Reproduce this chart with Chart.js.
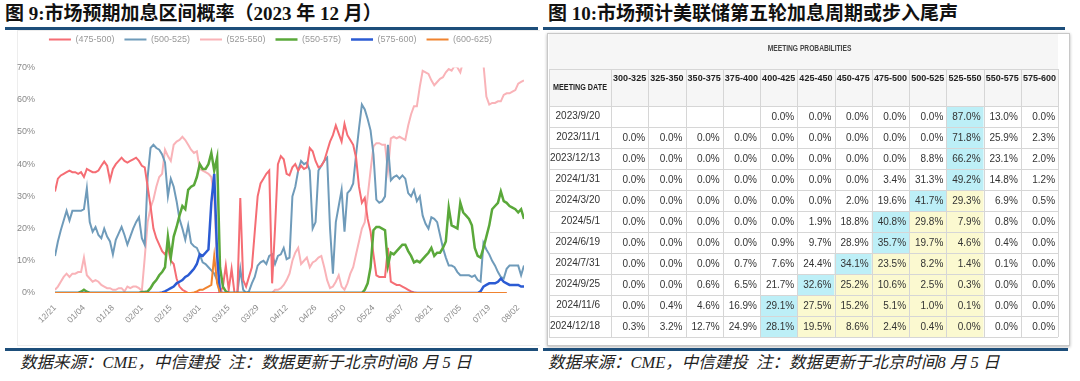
<!DOCTYPE html>
<html lang="zh-CN">
<head>
<meta charset="utf-8">
<title>市场预期加息区间概率</title>
<script src="https://cdn.jsdelivr.net/npm/chart.js@4.4.1/dist/chart.umd.min.js"></script>
<style>
  body { margin: 0; width: 1080px; height: 381px; background: #fff; position: relative; overflow: hidden; }
  .fig-title { position: absolute; top: 2px; font: bold 19px "Liberation Serif", "Noto Sans CJK SC", serif; color: #111; white-space: nowrap; line-height: 24px; }
  .rule { position: absolute; height: 3px; background: #1d4e7a; }
  .note { position: absolute; top: 352px; font: italic 16.5px "Liberation Serif", "Noto Sans CJK SC", serif; color: #222; white-space: nowrap; line-height: 22px; }
  .frame { position: absolute; box-sizing: border-box; }
  canvas { position: absolute; }
</style>
</head>
<body>
<div class="fig-title" style="left:5px">图 9:市场预期加息区间概率（2023 年 12 月）</div>
<div class="rule" style="left:5px; top:27px; width:533px"></div>
<div class="frame" style="left:17px; top:30px; width:523px; height:316px; border:1px solid #ededed; border-right:none"></div>
<canvas id="rateChart" width="523" height="320" style="left:17px; top:25px"></canvas>
<div class="rule" style="left:5px; top:348px; width:533px"></div>
<div class="note" style="left:20px">数据来源：CME，中信建投&nbsp;&nbsp;注：数据更新于北京时间8 月 5 日</div>

<div class="fig-title" style="left:548px">图 10:市场预计美联储第五轮加息周期或步入尾声</div>
<div class="rule" style="left:543px; top:27px; width:522px"></div>
<div class="frame" style="left:547px; top:33px; width:523px; height:313px; border:1px solid #c8c8c8; box-shadow:0 1px 3px rgba(0,0,0,.3)"></div>
<canvas id="meetingChart" width="523" height="313" style="left:547px; top:33px"></canvas>
<div class="rule" style="left:543px; top:348px; width:525px"></div>
<div class="note" style="left:548px">数据来源：CME，中信建投&nbsp;&nbsp;注：数据更新于北京时间8 月 5 日</div>

<script>
// ---- left chart: probability of each target range, one value per business day from 12/21
const tickLabels = ['12/21', '01/04', '01/18', '02/01', '02/15', '03/01', '03/15', '03/29', '04/12',
  '04/26', '05/10', '05/24', '06/07', '06/21', '07/05', '07/19', '08/02'];
const rangeLabels = ['(475-500)', '(500-525)', '(525-550)', '(550-575)', '(575-600)', '(600-625)'];

const p475to500 = [
  31.5, 35.5, 36.5, 37, 37.5, 38, 37.5, 37.5, 37, 37.5,
  36, 38.5, 38, 37.5, 37.5, 38, 39.5, 40.8, 39.5, 35,
  38.5, 40, 41, 42, 41, 40.5, 41, 41.5, 42, 41,
  39.5, 39, 33, 27, 20, 17, 15, 13, 12, 14,
  10, 9, 4.5, 2, 1, 0.5, 0, 0, 0, 0,
  0, 0, 0, 0, 0, 0, 0, 0, 2, 8.5,
  1, 7.5, 0, 0, 29.5, 4, 2, 5, 8, 19,
  30, 34, 35.5, 37, 38, 3, 20, 40, 42.5, 41.5,
  37, 36.5, 39, 40, 38, 39.5, 38.5, 39, 45, 44,
  41, 39, 39.5, 41, 44, 47, 49, 52, 49.5, 47,
  52.5, 49, 47.5, 46, 42, 33, 28, 29.5, 23, 19,
  12, 5.5, 5, 5, 5, 14, 3.5, 3, 2.5, 2.5,
  2, 1.5, 1, 0.5, 0.2, 0, 0, 0, 0, 0,
  0, 0, 0, 0, 0, 0, 0, 0, 0, 0,
  0, 0, 0, 0, 0, 0, 0, 0, 0, 0,
  0, 0, 0, 0, 0, 0, 0, null, null, null,
  null, null, null
];
const p500to525 = [
  11.5, 16, 19.5, 22.5, 25.5, 22.5, 25.5, 25.5, 25.5, 25.5,
  26, 32.5, 22, 19, 20.5, 18, 17, 20, 17.5, 16,
  12, 16.5, 18.5, 20.5, 18, 15, 17.5, 20, 22, 23.5,
  17, 15, 36, 45, 46, 45, 44.5, 43, 40.5, 30,
  35.5, 33, 28.5, 23, 20, 16.5, 21, 15.5, 14.5, 14,
  12, 9.5, 9, 8, 7, 6, 4, 0, 0, 0,
  0, 0, 0, 0, 7.5, 1, 0, 0.5, 3, 5,
  8.5, 9.5, 10, 9, 11.5, 12, 9, 11.5, 12, 14,
  10.5, 11, 30, 33, 38, 41, 40, 40.5, 38, 20,
  22, 38, 39.5, 41, 42, 20, 6, 22, 27, 32,
  19, 31, 32, 34, 43, 51, 58.5, 57, 54, 50.5,
  43, 29, 28, 28.5, 30, 46, 35, 36, 36.5, 35.5,
  36.5, 35.5, 31, 30, 32, 28.5, 30, 24, 21.5, 20,
  23.5, 23, 22, 18, 14, 11, 8.5, 8.5, 8, 6.5,
  5.5, 5.5, 5.5, 5.5, 5, 5.5, 4, 3.5, 15.5, 13.5,
  12, 10, 8.5, 6.5, 5, 4.5, 7.5, 8.5, 8.5, 8.5,
  8.5, 5.5, 8.5
];
const p525to550 = [
  1, 2, 3.5, 5, 6, 5, 6, 6, 6.5, 6.5,
  11, 5.5, 4.5, 3.5, 4, 3.5, 2.5, 2, 1.5, 1.5,
  1, 1, 1.5, 1.5, 0.5, 2, 1.5, 2, 2, 1.5,
  0.7, 11, 22, 26.5, 29, 33, 36, 37, 44.5, 42.5,
  41, 46, 47, 47.5, 48.5, 47.5, 46, 44.5, 43.5, 44,
  38.5, 38, 37.5, 37, 36, 30, 8, 1, 0, 0,
  0, 0, 0, 0, 0, 0, 0, 0, 0, 0,
  0, 0, 0, 0, 0, 0, 1, 1, 1.5, 2.5,
  4, 6, 10, 12.5, 14, 9, 10, 11, 8, 9.5,
  10, 11, 11.5, 8, 4, 1.5, 2, 3.5, 5.5, 2,
  1, 3, 6, 8, 12, 16, 20, 22, 30, 38,
  45.5, 46.5, 46.5, 46, 46, 38, 48, 48.5, 48, 48.5,
  48, 47.5, 52, 55.5, 58, 58, 64, 69, 68.5, 68,
  66, 64.5, 65.5, 66.5, 67, 68.5, 69.5, 69, 70.5, 70,
  68.5, 72, 74, 75, 76, 75, 74, 73, 71, 61,
  58.5, 59, 59, 59.5, 59.5, 61.5, 62, 62, 62.5, 63,
  65, 65.5, 66
];
const p550to575 = [
  0, 0, 0, 0, 0, 0, 0, 0, 0, 0.4,
  1, 0.4, 0, 0, 0, 0, 0, 0, 0, 0,
  0, 0, 0, 0, 0, 0, 0, 0, 0, 0,
  0.3, 0.3, 0.5, 1.5, 3, 4, 5.5, 6.5, 8, 17.5,
  11, 17.5, 20.5, 24, 27, 26, 32, 33, 33.5, 36,
  40, 38.5, 38.5, 40, 43.5, 38, 42, 8, 2, 0.5,
  0, 0, 0, 0, 0, 0, 0, 0, 0, 0,
  0, 0, 0, 0, 0, 0, 0, 0, 0, 0,
  0, 0, 0, 0, 0, 0, 0, 0, 0, 0,
  0, 0, 0, 0, 0, 0, 0, 0, 0, 0,
  0, 0, 0, 0, 0, 0, 0, 1, 3, 8,
  19.5, 20.5, 20.5, 20, 19.5, 8.5, 12.5, 12, 13, 14,
  15, 15, 13, 11.5, 9.5, 10, 9.5, 10.5, 11.5, 12.5,
  14, 11.5, 12.5, 12.5, 14, 16, 26.5, 21, 20.5, 20,
  28, 25, 24, 23, 21, 14, 11.5, 11, 14, 17.5,
  21, 26, 27, 28, 31.5, 28.5, 28, 27, 26.5, 26,
  25, 26, 23
];
const p575to600 = [
  0, 0, 0, 0, 0, 0, 0, 0, 0, 0,
  0, 0, 0, 0, 0, 0, 0, 0, 0, 0,
  0, 0, 0, 0, 0, 0, 0, 0, 0, 0,
  0, 0, 0, 0, 0, 0, 0, 0.2, 0.5, 1,
  1.5, 2, 3, 3.5, 4, 5, 5.5, 6.5, 7.5, 9,
  12, 11.5, 12.5, 13.5, 28, 37, 12, 0, 0, 0,
  0, 0, 0, 0, 0, 0, 0, 0, 0, 0,
  0, 0, 0, 0, 0, 0, 0, 0, 0, 0,
  0, 0, 0, 0, 0, 0, 0, 0, 0, 0,
  0, 0, 0, 0, 0, 0, 0, 0, 0, 0,
  0, 0, 0, 0, 0, 0, 0, 0, 0, 0,
  0, 0, 0, 0, 0, 0, 0, 0, 0, 0,
  0, 0, 0, 0, 0, 0, 0, 0, 0, 0,
  0, 0, 0, 0, 0, 0, 0, 0, 0, 0,
  0, 0, 0, 0, 0, 0, 0, 0.5, 2, 2.5,
  3, 3, 3, 3.5, 4.5, 3.5, 3, 2.5, 2.5, 2.5,
  2.5, 2, 2
];
const p600to625 = [
  0, 0, 0, 0, 0, 0, 0, 0, 0, 0,
  0, 0, 0, 0, 0, 0, 0, 0, 0, 0,
  0, 0, 0, 0, 0, 0, 0, 0, 0, 0,
  0, 0, 0, 0, 0, 0, 0, 0, 0, 0,
  0, 0, 0, 0, 0, 0, 0, 0, 0.2, 0.5,
  1, 1, 1.5, 2, 2.5, 11.5, 3, 0, 0, 0,
  0, 0, 0, 0, 0, 0, 0, 0, 0, 0,
  0, 0, 0, 0, 0, 0, 0, 0, 0, 0,
  0, 0, 0, 0, 0, 0, 0, 0, 0, 0,
  0, 0, 0, 0, 0, 0, 0, 0, 0, 0,
  0, 0, 0, 0, 0, 0, 0, 0, 0, 0,
  0, 0, 0, 0, 0, 0, 0, 0, 0, 0,
  0, 0, 0, 0, 0, 0, 0, 0, 0, 0,
  0, 0, 0, 0, 0, 0, 0, 0, 0, 0,
  0, 0, 0, 0, 0, 0, 0, 0, 0, 0,
  0, 0, 0, 0, 0, 0, 0, null, null, null,
  null, null, null
];

// ---- right table: CME meeting probabilities
const rateRanges = ['300-325', '325-350', '350-375', '375-400', '400-425', '425-450',
  '450-475', '475-500', '500-525', '525-550', '550-575', '575-600'];
const meetingDates = ['2023/9/20', '2023/11/1', '2023/12/13', '2024/1/31', '2024/3/20', '2024/5/1',
  '2024/6/19', '2024/7/31', '2024/9/25', '2024/11/6', '2024/12/18'];
const probRows = [
  [null, null, null, null, 0.0, 0.0, 0.0, 0.0, 0.0, 87.0, 13.0, 0.0],
  [0.0, 0.0, 0.0, 0.0, 0.0, 0.0, 0.0, 0.0, 0.0, 71.8, 25.9, 2.3],
  [0.0, 0.0, 0.0, 0.0, 0.0, 0.0, 0.0, 0.0, 8.8, 66.2, 23.1, 2.0],
  [0.0, 0.0, 0.0, 0.0, 0.0, 0.0, 0.0, 3.4, 31.3, 49.2, 14.8, 1.2],
  [0.0, 0.0, 0.0, 0.0, 0.0, 0.0, 2.0, 19.6, 41.7, 29.3, 6.9, 0.5],
  [0.0, 0.0, 0.0, 0.0, 0.0, 1.9, 18.8, 40.8, 29.8, 7.9, 0.8, 0.0],
  [0.0, 0.0, 0.0, 0.0, 0.9, 9.7, 28.9, 35.7, 19.7, 4.6, 0.4, 0.0],
  [0.0, 0.0, 0.0, 0.7, 7.6, 24.4, 34.1, 23.5, 8.2, 1.4, 0.1, 0.0],
  [0.0, 0.0, 0.6, 6.5, 21.7, 32.6, 25.2, 10.6, 2.5, 0.3, 0.0, 0.0],
  [0.0, 0.4, 4.6, 16.9, 29.1, 27.5, 15.2, 5.1, 1.0, 0.1, 0.0, 0.0],
  [0.3, 3.2, 12.7, 24.9, 28.1, 19.5, 8.6, 2.4, 0.4, 0.0, 0.0, 0.0]
];

Chart.defaults.font.family = "'Liberation Sans', Arial, sans-serif";

const lineColors = ['#f56d74', '#6f9bba', '#f9b3b8', '#5aa83a', '#2b5bd3', '#f0832f'];
const lineWidths = [2, 2, 2, 2.5, 2.5, 2];
const drawOrder = [3, 4, 5, 2, 1, 0];   // orange on top along the zero line
const seriesValues = [p475to500, p500to525, p525to550, p550to575, p575to600, p600to625];

// leave some room between the legend and the plot
const legendGap = {
  id: 'legendGap',
  beforeInit(chart) {
    const fit = chart.legend.fit;
    chart.legend.fit = function () {
      fit.call(this);
      this.height += 13.5;
    };
  }
};

new Chart(document.getElementById('rateChart'), {
  type: 'line',
  data: {
    datasets: seriesValues.map((vals, i) => ({
      label: rangeLabels[i],
      data: vals.map((v, k) => ({ x: k, y: v })),
      borderColor: lineColors[i],
      backgroundColor: lineColors[i],
      borderWidth: lineWidths[i],
      pointRadius: 0,
      tension: 0,
      order: drawOrder[i]
    }))
  },
  options: {
    responsive: false,
    animation: false,
    events: [],
    layout: { padding: { right: 16 } },
    plugins: {
      tooltip: { enabled: false },
      legend: {
        labels: {
          usePointStyle: true,
          pointStyle: 'line',
          pointStyleWidth: 22,
          font: { size: 9 },
          color: '#999',
          padding: 10,
          sort: (a, b) => a.datasetIndex - b.datasetIndex
        }
      }
    },
    scales: {
      x: {
        type: 'linear',
        min: 0,
        max: 162,
        grid: { display: false },
        border: { display: false },
        afterBuildTicks: (s) => { s.ticks = tickLabels.map((_, i) => ({ value: i * 10 })); },
        afterFit: (s) => { s.height = 52; },
        ticks: {
          autoSkip: false,
          minRotation: 45,
          maxRotation: 45,
          padding: 2,
          font: { size: 8.5 },
          color: '#8a8a8a',
          callback: (v) => tickLabels[Math.round(v / 10)]
        }
      },
      y: {
        min: 0,
        max: 70,
        grid: { display: false },
        border: { display: false },
        afterFit: (s) => { s.width = 38; },
        ticks: {
          stepSize: 10,
          padding: 12,
          font: { size: 9 },
          color: '#8a8a8a',
          callback: (v) => v + '%'
        }
      }
    }
  },
  plugins: [legendGap]
});

// ---- table chart: one invisible point per cell, text and shading drawn at the point
const hiTop = '#bdeff7';
const hiBand = '#fbf9d0';
const currentCol = rateRanges.indexOf('525-550');

function topColumn(vals) {
  let best = -1, bestVal = -1;
  vals.forEach((v, j) => {
    if (v !== null && v > bestVal) { best = j; bestVal = v; }
  });
  return best;
}

const cellData = [];
probRows.forEach((vals, r) => {
  const top = topColumn(vals);
  vals.forEach((v, c) => {
    let fill = null;
    if (c === top) fill = hiTop;
    else if (c > top && c <= currentCol) fill = hiBand;
    cellData.push({ x: rateRanges[c], y: meetingDates[r], v: v, fill: fill });
  });
});

const headerRowH = 37;

function narrowText(ctx, text, cx, cy, sx) {
  ctx.save();
  ctx.translate(cx, cy);
  ctx.scale(sx, 1);
  ctx.fillText(text, 0, 0);
  ctx.restore();
}

const tableCells = {
  id: 'tableCells',
  beforeDraw(chart) {
    const { ctx, chartArea: a, scales: { x, y } } = chart;
    const meta = chart.getDatasetMeta(0);
    const cw = x.width / rateRanges.length;
    const rh = y.height / meetingDates.length;
    ctx.save();
    ctx.fillStyle = '#f6f6f6';
    ctx.fillRect(y.left, 1, a.right - y.left, a.top - 1);
    meta.data.forEach((pt, k) => {
      const cell = cellData[k];
      if (!cell.fill) return;
      ctx.fillStyle = cell.fill;
      ctx.fillRect(pt.x - cw / 2, pt.y - rh / 2, cw, rh);
    });
    ctx.restore();
  },
  afterDatasetsDraw(chart) {
    const { ctx, chartArea: a, scales: { x, y } } = chart;
    const meta = chart.getDatasetMeta(0);
    const cw = x.width / rateRanges.length;
    const rh = y.height / meetingDates.length;
    const bannerBottom = a.top - headerRowH;
    ctx.save();

    ctx.strokeStyle = '#d6d6d6';
    ctx.lineWidth = 1;
    ctx.beginPath();
    for (let i = 0; i <= meetingDates.length; i++) {
      const yy = Math.round(a.top + i * rh) + 0.5;
      ctx.moveTo(y.left, yy);
      ctx.lineTo(a.right, yy);
    }
    const hb = Math.round(bannerBottom) + 0.5;
    ctx.moveTo(y.left, hb);
    ctx.lineTo(a.right, hb);
    for (let j = 0; j <= rateRanges.length; j++) {
      const xx = Math.round(a.left + j * cw) + 0.5;
      ctx.moveTo(xx, bannerBottom);
      ctx.lineTo(xx, a.bottom);
    }
    ctx.moveTo(Math.round(y.left) + 0.5, bannerBottom);
    ctx.lineTo(Math.round(y.left) + 0.5, a.bottom);
    ctx.stroke();

    ctx.fillStyle = '#333';
    ctx.font = "10px 'Liberation Sans', Arial, sans-serif";
    ctx.textAlign = 'right';
    ctx.textBaseline = 'middle';
    meta.data.forEach((pt, k) => {
      const cell = cellData[k];
      if (cell.v === null) return;
      ctx.fillText(cell.v.toFixed(1) + '%', pt.x + cw / 2 - 3, pt.y + 0.5);
    });

    ctx.textAlign = 'center';
    ctx.fillStyle = '#222';
    ctx.font = "bold 9px 'Liberation Sans', Arial, sans-serif";
    narrowText(ctx, 'MEETING DATE', (y.left + a.left) / 2, a.top - headerRowH / 2, 0.8);
    ctx.fillStyle = '#444';
    narrowText(ctx, 'MEETING PROBABILITIES', (y.left + a.right) / 2 + 6, bannerBottom / 2 - 2, 0.74);
    ctx.restore();
  }
};

new Chart(document.getElementById('meetingChart'), {
  type: 'scatter',
  data: {
    datasets: [{
      data: cellData,
      pointRadius: 0,
      pointHoverRadius: 0
    }]
  },
  options: {
    responsive: false,
    animation: false,
    events: [],
    layout: { padding: { left: 2, right: 2, top: 0, bottom: 1 } },
    plugins: { legend: { display: false }, tooltip: { enabled: false } },
    scales: {
      x: {
        type: 'category',
        labels: rateRanges,
        position: 'top',
        offset: true,
        grid: { display: false },
        border: { display: false },
        afterFit: (s) => { s.height = 73; },
        ticks: {
          autoSkip: false,
          minRotation: 0,
          maxRotation: 0,
          padding: 14,
          font: { size: 9, weight: 'bold' },
          color: '#222'
        }
      },
      y: {
        type: 'category',
        labels: meetingDates,
        offset: true,
        grid: { display: false },
        border: { display: false },
        afterFit: (s) => { s.width = 62; },
        ticks: {
          autoSkip: false,
          padding: 3,
          font: { size: 10 },
          color: '#333'
        }
      }
    }
  },
  plugins: [tableCells]
});
</script>
</body>
</html>
